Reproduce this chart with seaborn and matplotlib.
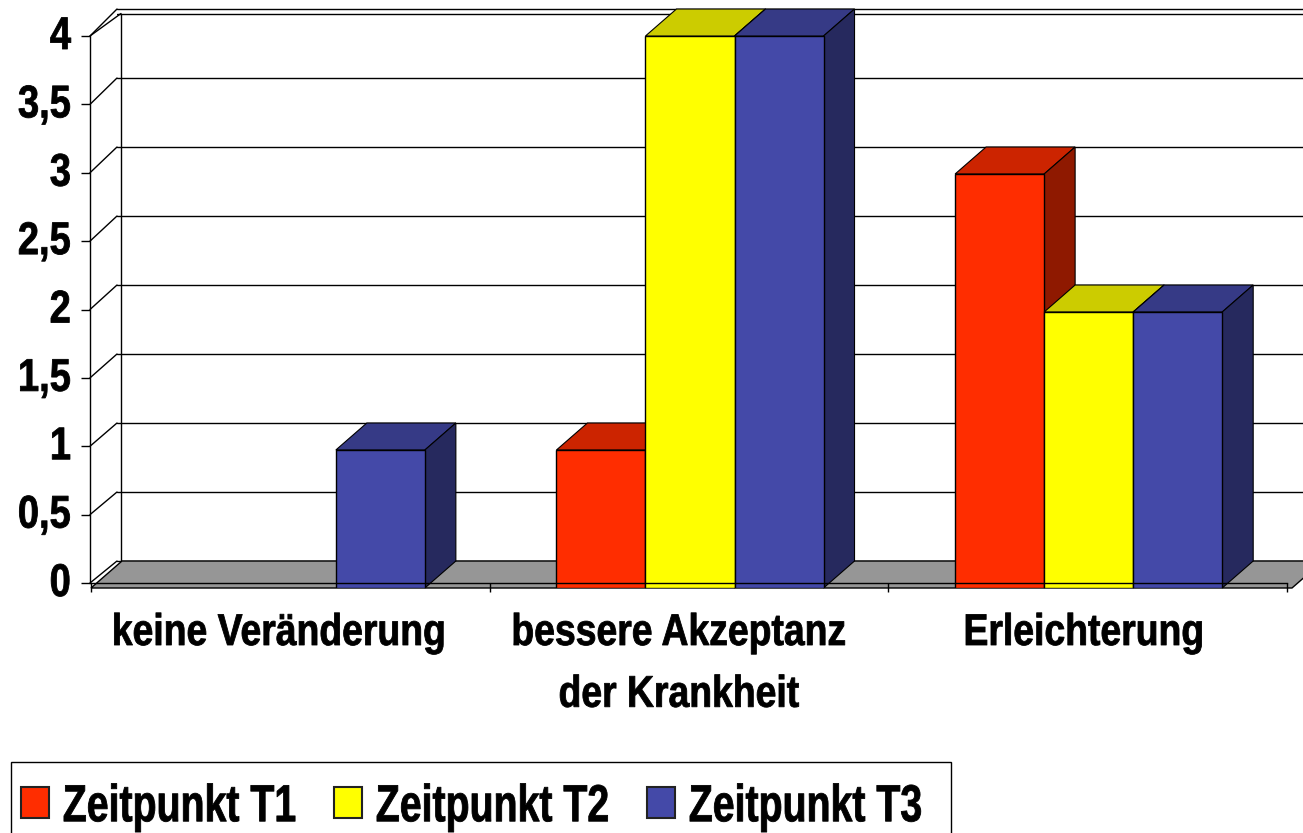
import matplotlib
matplotlib.use("Agg")
import matplotlib.pyplot as plt
import matplotlib.colors as mcolors
from matplotlib.patches import ConnectionPatch, Patch, Rectangle
from matplotlib.patheffects import AbstractPathEffect
from matplotlib.transforms import Affine2D
import seaborn as sns
import pandas as pd
import numpy as np

categories = ["keine Veränderung", "bessere Akzeptanz\nder Krankheit", "Erleichterung"]
series = ["Zeitpunkt T1", "Zeitpunkt T2", "Zeitpunkt T3"]
t1_values = [0, 1, 3]
t2_values = [0, 4, 2]
t3_values = [1, 4, 2]
y_ticks = [0, 0.5, 1, 1.5, 2, 2.5, 3, 3.5, 4]
y_tick_labels = ["0", "0,5", "1", "1,5", "2", "2,5", "3", "3,5", "4"]
colors = ["#FF2D00", "#FFFF00", "#4449A8"]

df = pd.DataFrame({
    "Kategorie": categories * 3,
    "Zeitpunkt": np.repeat(series, 3),
    "Wert": t1_values + t2_values + t3_values,
})

W, H = 1303, 833

sns.set_theme(style="white")
plt.rcParams["font.family"] = ["Liberation Sans"]
plt.rcParams["font.weight"] = "bold"


class Squeeze(AbstractPathEffect):
    # no narrow bold font is installed, so squeeze the glyphs sideways
    def __init__(self, sx, anchor=0.5, up=0, stroke=0.6):
        super().__init__()
        self.sx, self.anchor, self.up, self.stroke = sx, anchor, up, stroke

    def draw_path(self, renderer, gc, tpath, affine, rgbFace=None):
        ext = tpath.get_extents()
        xref = ext.x0 + self.anchor * ext.width
        squeeze = Affine2D().translate(-xref, 0).scale(self.sx, 1).translate(xref, 0)
        gc0 = renderer.new_gc()
        gc0.copy_properties(gc)
        gc0.set_linewidth(self.stroke)
        gc0.set_foreground(rgbFace)
        renderer.draw_path(gc0, tpath, squeeze + affine + Affine2D().translate(0, self.up), rgbFace)
        gc0.restore()


def px_axes(fig, left, right, top, bottom, **kw):
    # axes rectangle given in image pixels
    return fig.add_axes([left / W, 1 - bottom / H, (right - left) / W, (bottom - top) / H], **kw)


fig = plt.figure(figsize=(W / 100, H / 100), dpi=100, facecolor="white")

# back wall with grid lines
ax_back = px_axes(fig, 117, 1303, 9, 561, zorder=0)
ax_back.set_ylim(0, 4)
ax_back.axis("off")
for v in y_ticks:
    ax_back.axhline(v, color="black", lw=1.0, clip_on=False)
ax_back.axhline(4 - 4.5 / 138, color="black", lw=1.0)
ax_back.axvline(4 / 1186, ymin=0, ymax=1 - 4.5 / 552, color="black", lw=1.0)

# value axis
ax_left = px_axes(fig, 90, 1287, 36, 583, zorder=1)
ax_left.patch.set_visible(False)
ax_left.set_ylim(0, 4)
ax_left.set_xticks([])
ax_left.set_yticks(y_ticks)
ax_left.set_yticklabels(y_tick_labels, fontsize=33, fontweight="bold")
ax_left.tick_params(axis="y", left=True, length=6.5, width=1.0, pad=7, color="black", labelcolor="black")
for t in ax_left.get_yticklabels():
    t.set_path_effects([Squeeze(0.83, anchor=1.0, up=4)])
for name, spine in ax_left.spines.items():
    spine.set_visible(name == "left")
    spine.set_color("black")
    spine.set_linewidth(1.0)

# diagonals from the axis to the back wall
for v in y_ticks:
    fig.add_artist(ConnectionPatch((0, v), (0, v), coordsA=ax_left.get_yaxis_transform(),
                                   coordsB=ax_back.get_yaxis_transform(), color="black", lw=1.0))
fig.add_artist(ConnectionPatch((0, 4), (4 / 1186, 4 - 4.5 / 138), coordsA=ax_left.get_yaxis_transform(),
                               coordsB=ax_back.get_yaxis_transform(), color="black", lw=1.0))

# bars sit 1 px right of the axis line
ax = px_axes(fig, 91, 1288, 36, 588, zorder=2)
ax.patch.set_visible(False)
sns.barplot(data=df, x="Kategorie", y="Wert", hue="Zeitpunkt", order=categories, hue_order=series,
            palette=colors, saturation=1, width=0.67, gap=0, dodge=True, edgecolor="black",
            linewidth=1.0, legend=False, ax=ax)
ax.set_xlim(-0.5, 2.5)
ax.set_ylim(0, 4)
ax.set_xlabel("")
ax.set_ylabel("")

dx = 31 / 399
dy = 27 / 138
x_start, x_end = -0.5 - 1 / 399, 2.5 - 1 / 399

# left to right so the next bar covers the previous one
bars = sorted(ax.patches, key=lambda b: b.get_x())

# grey floor
ax.fill([x_start, x_start + dx, x_end + 5 / 399 + dx, x_end + 5 / 399], [0, dy, dy, 0], facecolor="#969696",
        edgecolor="black", lw=1.0, clip_on=False, zorder=0.5)

# top and side faces
z = 1
for bar in bars:
    h = bar.get_height()
    if h <= 0:
        bar.set_visible(False)
        continue
    x0, x1 = bar.get_x(), bar.get_x() + bar.get_width()
    rgb = np.array(mcolors.to_rgb(bar.get_facecolor()))
    ax.fill([x0, x0 + dx, x1 + dx, x1], [h, h + dy, h + dy, h], facecolor=rgb * 0.8,
            edgecolor="black", lw=0.8, clip_on=False, zorder=z)
    ax.fill([x1, x1 + dx, x1 + dx, x1], [0, dy, h + dy, h], facecolor=rgb * 0.56,
            edgecolor="black", lw=0.8, clip_on=False, zorder=z)
    bar.set_zorder(z + 0.5)
    z += 1

ax.set_yticks([])
ax.set_xticks([x_start, 0.5 - 1 / 399, 1.5 - 1 / 399, x_end])
ax.set_xticklabels([])
ax.tick_params(axis="x", bottom=True, length=6.5, width=1.0, color="black")
for name, spine in ax.spines.items():
    spine.set_visible(name == "bottom")
ax.spines["bottom"].set_position(("outward", -3.6))
ax.spines["bottom"].set_bounds(x_start, x_end)
ax.spines["bottom"].set_color("black")
ax.spines["bottom"].set_linewidth(1.0)
ax.spines["bottom"].set_zorder(50)

label_shift = [-8.9, -8, -3.4]
for i, label in enumerate(categories):
    t = ax.annotate(label, xy=(i, 0), xycoords=ax.get_xaxis_transform(), xytext=(label_shift[i], -18),
                    textcoords="offset points", ha="center", va="top", fontsize=32,
                    fontweight="bold", color="black", linespacing=1.65, annotation_clip=False)
    t.set_path_effects([Squeeze(0.84)])

# legend box runs off the bottom of the picture
fig.add_artist(Rectangle((11 / W, -10 / H), 940 / W, (833 - 762 + 10) / H, transform=fig.transFigure,
                         facecolor="none", edgecolor="black", lw=1.0))
handles = [Patch(facecolor=c, edgecolor="#222222", lw=1.5) for c in colors]
leg = fig.legend(handles, series, loc="upper left", bbox_to_anchor=(3 / W, 1 - 765 / H),
                 bbox_transform=fig.transFigure, ncol=3, frameon=False,
                 borderaxespad=0, borderpad=0.35, handlelength=0.54,
                 handleheight=0.54, handletextpad=0.25, columnspacing=-0.73,
                 prop={"size": 37.5, "weight": "bold"})
for t in leg.get_texts():
    t.set_color("black")
    t.set_path_effects([Squeeze(0.754, anchor=0.0)])

fig.savefig("out.png", dpi=100)
